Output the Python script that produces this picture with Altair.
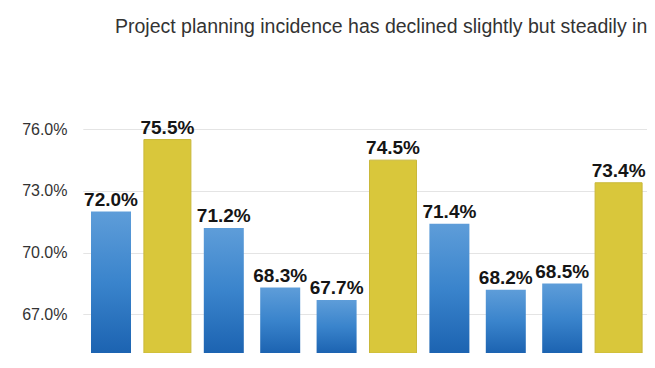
import altair as alt
import pandas as pd

# ---- data ----
categories = ["Bar 1", "Bar 2", "Bar 3", "Bar 4", "Bar 5",
              "Bar 6", "Bar 7", "Bar 8", "Bar 9", "Bar 10"]
values = [72.0, 75.5, 71.2, 68.3, 67.7, 74.5, 71.4, 68.2, 68.5, 73.4]
kinds = ["segment", "overall", "segment", "segment", "segment",
         "overall", "segment", "segment", "segment", "overall"]
y_ticks = [67, 70, 73, 76]
title_text = "Project planning incidence has declined slightly but steadily in"

Y_MIN, Y_MAX = 65.12, 79.37

df = pd.DataFrame({"cat": categories, "value": values, "kind": kinds})

x_enc = alt.X("cat:N", sort=categories, axis=None,
              scale=alt.Scale(domain=categories, range=[1.8, 565.8],
                              paddingInner=0, paddingOuter=0))
y_enc = alt.Y("value:Q",
              scale=alt.Scale(domain=[Y_MIN, Y_MAX], nice=False, zero=False),
              axis=alt.Axis(values=y_ticks, title=None,
                            labelExpr="format(datum.value, '.1f') + '%'",
                            grid=True, gridColor="#e4e4e4", gridWidth=1,
                            domain=False, ticks=False, labelPadding=14,
                            labelFontSize=16, labelColor="#333333",
                            labelFont="Liberation Sans"))
y2_enc = alt.Y2(datum=Y_MIN)

blue_grad = alt.Gradient(
    gradient="linear",
    stops=[alt.GradientStop(offset=0, color="#5e9dd9"),
           alt.GradientStop(offset=0.5, color="#3a84cc"),
           alt.GradientStop(offset=1, color="#1c63b1")],
    x1=0, x2=0, y1=0, y2=1)

base = alt.Chart(df)

blue = base.transform_filter(alt.datum.kind == "segment").mark_bar(
    width=40, fill=blue_grad, opacity=1
).encode(x=x_enc, y=y_enc, y2=y2_enc)

yellow = base.transform_filter(alt.datum.kind == "overall").mark_bar(
    width=47, fill="#d9c73b", stroke="#c9b83a", strokeWidth=1, opacity=1
).encode(x=x_enc, y=y_enc, y2=y2_enc)

labels = base.transform_calculate(
    label="format(datum.value, '.1f') + '%'"
).mark_text(
    font="Liberation Sans", fontSize=19, fontWeight="bold", color="#151515",
    baseline="alphabetic", dy=-6
).encode(x=x_enc, y=y_enc, text="label:N")

chart = alt.layer(blue, yellow, labels).properties(
    width=566, height=293,
    autosize=alt.AutoSizeParams(type="none"),
    padding={"left": 73, "top": 52, "right": 0, "bottom": 0},
    title=alt.TitleParams(
        text=title_text, anchor="start", frame="group", dx=34, offset=23,
        font="Liberation Sans", fontSize=19.5, fontWeight="normal",
        color="#333333")
).configure_view(stroke=None)

chart.save("out.html", embed_options={"renderer": "svg", "actions": False})
